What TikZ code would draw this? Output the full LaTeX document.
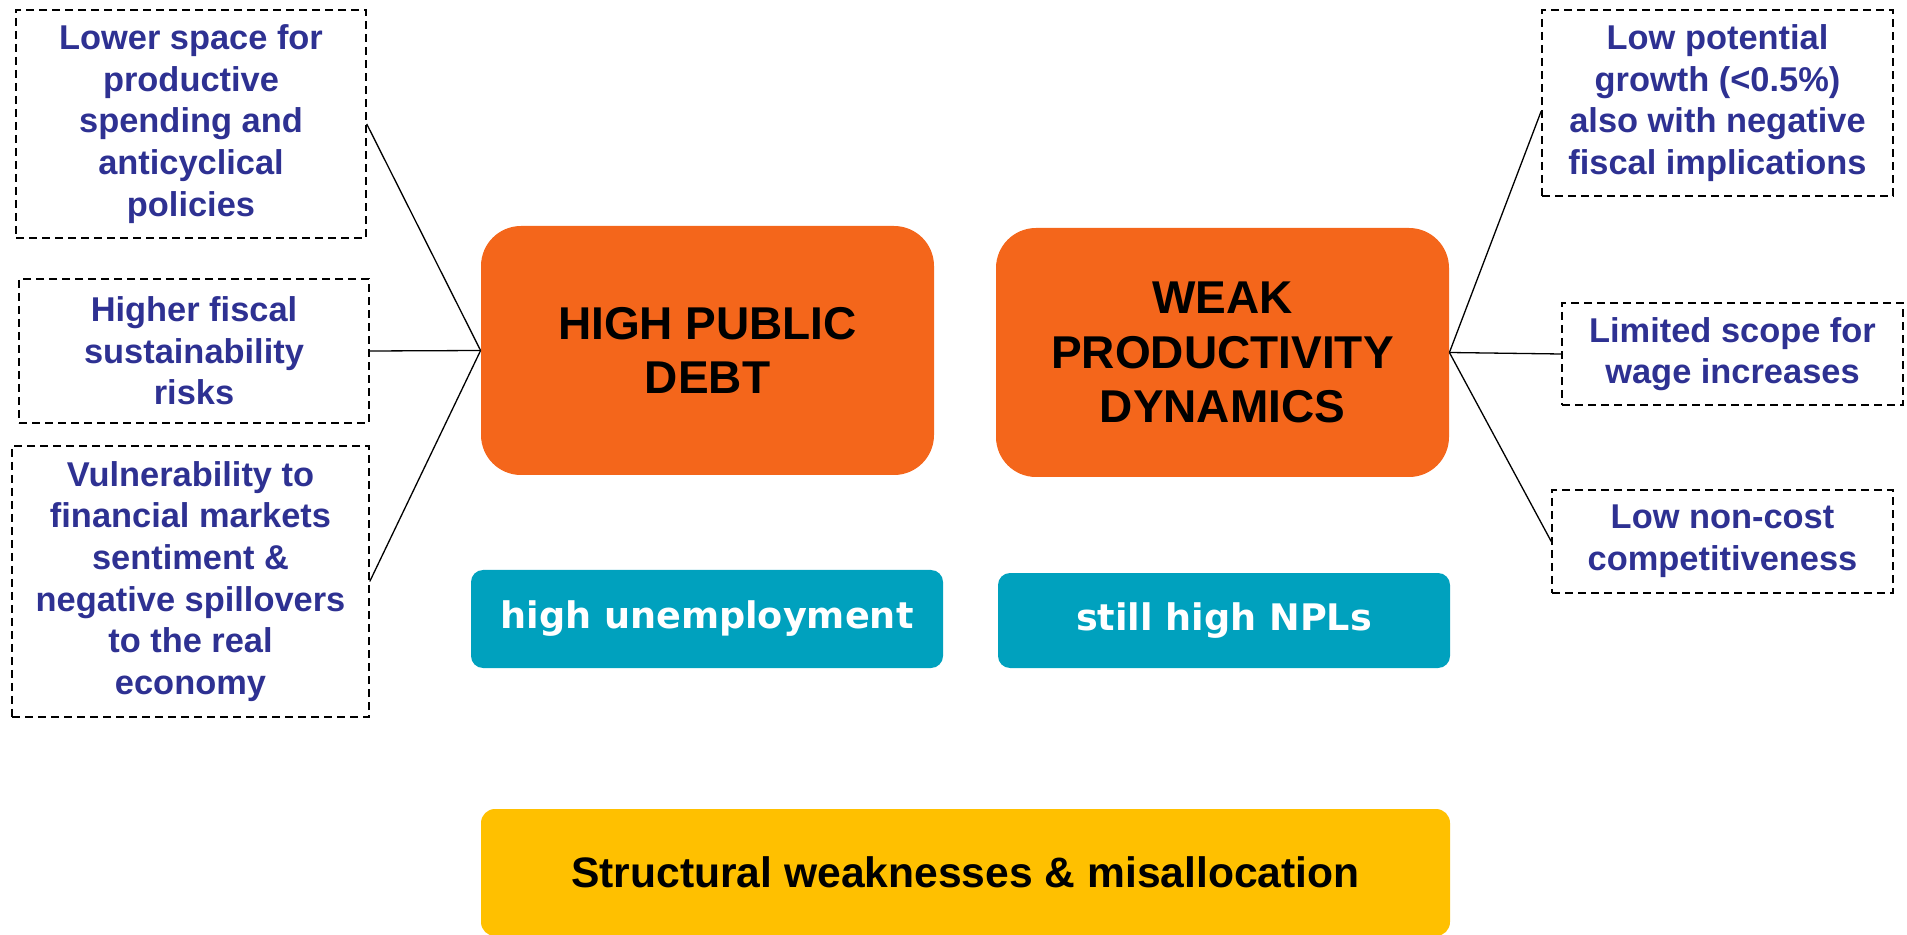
\documentclass[tikz,border=0pt]{standalone}
\usepackage{fontspec}
\setmainfont{Liberation Sans}
\newfontfamily\verafont{DejaVu Sans}
\definecolor{noteblue}{RGB}{46,49,146}
\definecolor{hotorange}{RGB}{244,102,27}
\definecolor{tealbox}{RGB}{0,161,190}
\definecolor{goldbox}{RGB}{255,192,0}

\begin{document}
\begin{tikzpicture}[x=0.5pt,y=-0.5pt,
  note/.style={draw=black, dash pattern=on 4pt off 2.5pt, line width=0.75pt,
    align=center, text=noteblue, inner sep=0pt,
    font=\fontsize{17.2}{20.8}\selectfont\bfseries},
  issue/.style={fill=hotorange, rounded corners=20pt, align=center, inner sep=0pt,
    minimum width=226.5pt, minimum height=124.5pt,
    font=\fontsize{23}{27.3}\selectfont\bfseries},
  flag/.style={fill=tealbox, rounded corners=6pt, text=white, inner sep=0pt,
    font=\verafont\fontsize{18.3}{21}\selectfont\bfseries},
  base/.style={fill=goldbox, rounded corners=7pt, inner sep=0pt,
    font=\fontsize{21.3}{25}\selectfont\bfseries},
  link/.style={draw=black, line width=0.65pt}
]
\useasboundingbox (0,0) rectangle (1907,935);

% central problems
\node[issue] (debt) at (707.5,350.5) {HIGH PUBLIC\\DEBT};
\node[issue] (prod) at (1222.5,352.5) {WEAK\\PRODUCTIVITY\\DYNAMICS};

% secondary problems
\node[flag, minimum width=236pt, minimum height=49pt] (unemp) at (707,619) {high unemployment};
\node[flag, minimum width=226pt, minimum height=47.5pt] (npl) at (1224,620.5) {still high NPLs};

% underlying cause
\node[base, minimum width=484.5pt, minimum height=63.5pt] (struct) at (965.5,872.5) {Structural weaknesses \& misallocation};

% consequences of high debt
\node[note, minimum width=175pt, minimum height=114pt] (l1) at (191,124)
  {Lower space for\\productive\\spending and\\anticyclical\\policies};
\node[note, minimum width=175pt, minimum height=72pt] (l2) at (194,351)
  {Higher fiscal\\sustainability\\risks};
\node[note, minimum width=178.5pt, minimum height=135.5pt] (l3) at (190.5,581.5)
  {Vulnerability to\\financial markets\\sentiment \&\\negative spillovers\\to the real\\economy};

% consequences of weak productivity
\node[note, minimum width=175.5pt, minimum height=93pt] (r1) at (1717.5,103)
  {Low potential\\growth (<0.5\%)\\also with negative\\fiscal implications};
\node[note, minimum width=170.5pt, minimum height=51pt] (r2) at (1732.5,354)
  {Limited scope for\\wage increases};
\node[note, minimum width=170.5pt, minimum height=51.5pt] (r3) at (1722.5,541.5)
  {Low non-cost\\competitiveness};

% connectors
\draw[link] (debt.west) -- (l1.east);
\draw[link] (debt.west) -- (l2.east);
\draw[link] (debt.west) -- (l3.east);
\draw[link] (prod.east) -- ([yshift=-4pt]r1.west);
\draw[link] (prod.east) -- (r2.west);
\draw[link] (prod.east) -- (r3.west);
\end{tikzpicture}
\end{document}
